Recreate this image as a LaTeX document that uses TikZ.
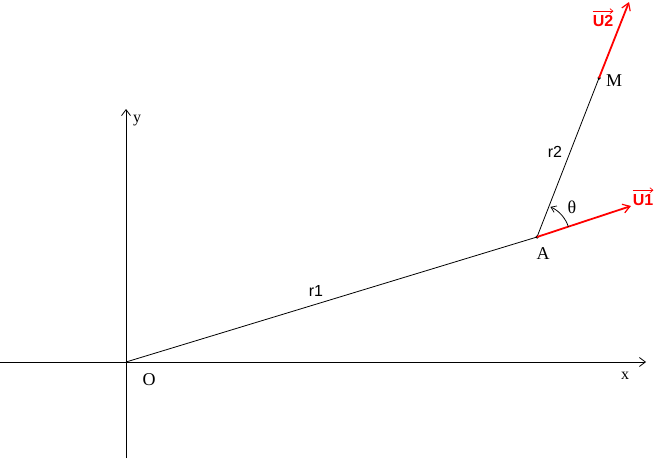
\documentclass[tikz,border=0pt]{standalone}
\usepackage{fontspec}
\setmainfont{Liberation Serif}
\newfontfamily\lsans{Liberation Sans}
\usetikzlibrary{arrows.meta}
\begin{document}
\begin{tikzpicture}[x=1pt,y=-1pt,
  axis/.style={line width=0.8pt,-{Straight Barb[length=6pt,width=9pt,line width=0.8pt]}},
  vec/.style={red,line width=1.8pt,-{Straight Barb[length=7pt,width=9pt,line width=1.2pt]}},
  thin/.style={line width=0.8pt},
  pt/.style={circle,fill=black,inner sep=0pt,minimum size=3.5pt},
  slab/.style={font=\lsans\fontsize{16}{16}\selectfont},
  rlab/.style={font=\fontsize{18}{18}\selectfont},
  xylab/.style={font=\fontsize{16}{16}\selectfont},
  vlab/.style={red,inner sep=0pt,font=\lsans\bfseries\fontsize{16}{16}\selectfont},
  over/.style={red,line width=0.8pt,-{Straight Barb[length=3pt,width=5pt,line width=0.7pt]}}]
\useasboundingbox (0,0) rectangle (660,458);
\coordinate (xs) at (0,362);
\coordinate (xe) at (646,362);
\coordinate (ys) at (126,458);
\coordinate (ye) at (126,109);
\coordinate (O) at (126,362);
\node[pt] (A) at (537,237) {};
\node[pt] (M) at (599,78) {};
\coordinate (U1) at (631,206);
\coordinate (U2) at (629,2);
\draw[axis] (xs) -- (xe);
\draw[axis] (ys) -- (ye);
\draw[thin] (O) -- (A.center);
\draw[thin] (A.center) -- (M.center);
\draw[vec] (A.center) -- (U1);
\draw[vec] (M.center) -- (U2);
\draw[thin,-{Straight Barb[length=5pt,width=7pt,line width=0.7pt]}] (A.center) ++(31.4,-10.1) arc[start angle=-17.9,end angle=-66,radius=33];
\node[xylab] (ly) at (137,121) {y};
\node[rlab] (lO) at (149,380) {O};
\node[xylab] (lx) at (625,376) {x};
\node[rlab] (lA) at (543,254) {A};
\node[rlab] (lM) at (614,81) {M};
\node[rlab] (lth) at (572,207) {θ};
\node[slab] (lr1) at (316,291) {r1};
\node[slab] (lr2) at (555,152) {r2};
\node[vlab] (lu1) at (643,200) {U1};
\draw[over] ([yshift=4pt]lu1.north west) -- ([yshift=4pt]lu1.north east);
\node[vlab] (lu2) at (603,21) {U2};
\draw[over] ([yshift=4pt]lu2.north west) -- ([yshift=4pt]lu2.north east);
\end{tikzpicture}
\end{document}
